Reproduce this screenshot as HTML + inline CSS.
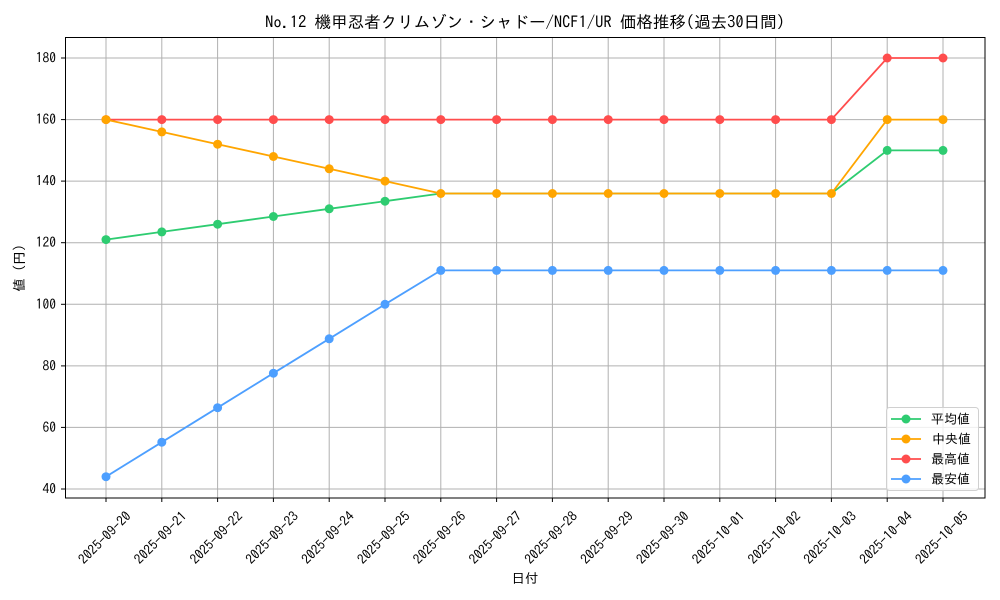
<!DOCTYPE html>
<html><head><meta charset="utf-8"><style>
body{margin:0;background:#fff}
svg{display:block;font-family:"IPAGothic","Liberation Sans","Noto Sans CJK JP",sans-serif}
</style></head><body>
<svg width="1000" height="600" viewBox="0 0 1000 600" xmlns="http://www.w3.org/2000/svg">
<rect width="1000" height="600" fill="#fff"/>
<g stroke="#b0b0b0" stroke-width="1">
<line x1="106" y1="37" x2="106" y2="498"/><line x1="161.8" y1="37" x2="161.8" y2="498"/><line x1="217.6" y1="37" x2="217.6" y2="498"/><line x1="273.4" y1="37" x2="273.4" y2="498"/><line x1="329.2" y1="37" x2="329.2" y2="498"/><line x1="385" y1="37" x2="385" y2="498"/><line x1="440.8" y1="37" x2="440.8" y2="498"/><line x1="496.6" y1="37" x2="496.6" y2="498"/><line x1="552.4" y1="37" x2="552.4" y2="498"/><line x1="608.2" y1="37" x2="608.2" y2="498"/><line x1="664" y1="37" x2="664" y2="498"/><line x1="719.8" y1="37" x2="719.8" y2="498"/><line x1="775.6" y1="37" x2="775.6" y2="498"/><line x1="831.4" y1="37" x2="831.4" y2="498"/><line x1="887.2" y1="37" x2="887.2" y2="498"/><line x1="943" y1="37" x2="943" y2="498"/>
<line x1="65" y1="58" x2="985" y2="58"/><line x1="65" y1="119.6" x2="985" y2="119.6"/><line x1="65" y1="181.1" x2="985" y2="181.1"/><line x1="65" y1="242.7" x2="985" y2="242.7"/><line x1="65" y1="304.3" x2="985" y2="304.3"/><line x1="65" y1="365.9" x2="985" y2="365.9"/><line x1="65" y1="427.4" x2="985" y2="427.4"/><line x1="65" y1="489" x2="985" y2="489"/>
</g>
<rect x="65.5" y="37.5" width="919.5" height="460.5" fill="none" stroke="#000" stroke-width="1"/>
<g stroke="#000">
<line x1="61" y1="58" x2="65" y2="58"/><line x1="61" y1="119.6" x2="65" y2="119.6"/><line x1="61" y1="181.1" x2="65" y2="181.1"/><line x1="61" y1="242.7" x2="65" y2="242.7"/><line x1="61" y1="304.3" x2="65" y2="304.3"/><line x1="61" y1="365.9" x2="65" y2="365.9"/><line x1="61" y1="427.4" x2="65" y2="427.4"/><line x1="61" y1="489" x2="65" y2="489"/>
</g>
<g font-size="13.5" text-anchor="end" fill="#000">
<text x="56" y="62.5">180</text><text x="56" y="124">160</text><text x="56" y="185.6">140</text><text x="56" y="247.2">120</text><text x="56" y="308.8">100</text><text x="56" y="370.4">80</text><text x="56" y="431.9">60</text><text x="56" y="493.5">40</text>
</g>
<g stroke="#000">
<line x1="106" y1="498" x2="106" y2="502"/><line x1="161.8" y1="498" x2="161.8" y2="502"/><line x1="217.6" y1="498" x2="217.6" y2="502"/><line x1="273.4" y1="498" x2="273.4" y2="502"/><line x1="329.2" y1="498" x2="329.2" y2="502"/><line x1="385" y1="498" x2="385" y2="502"/><line x1="440.8" y1="498" x2="440.8" y2="502"/><line x1="496.6" y1="498" x2="496.6" y2="502"/><line x1="552.4" y1="498" x2="552.4" y2="502"/><line x1="608.2" y1="498" x2="608.2" y2="502"/><line x1="664" y1="498" x2="664" y2="502"/><line x1="719.8" y1="498" x2="719.8" y2="502"/><line x1="775.6" y1="498" x2="775.6" y2="502"/><line x1="831.4" y1="498" x2="831.4" y2="502"/><line x1="887.2" y1="498" x2="887.2" y2="502"/><line x1="943" y1="498" x2="943" y2="502"/>
</g>
<g font-size="13.5" text-anchor="middle" fill="#000">
<text transform="translate(108,541) rotate(-45)">2025-09-20</text>
<text transform="translate(163.8,541) rotate(-45)">2025-09-21</text>
<text transform="translate(219.6,541) rotate(-45)">2025-09-22</text>
<text transform="translate(275.4,541) rotate(-45)">2025-09-23</text>
<text transform="translate(331.2,541) rotate(-45)">2025-09-24</text>
<text transform="translate(387,541) rotate(-45)">2025-09-25</text>
<text transform="translate(442.8,541) rotate(-45)">2025-09-26</text>
<text transform="translate(498.6,541) rotate(-45)">2025-09-27</text>
<text transform="translate(554.4,541) rotate(-45)">2025-09-28</text>
<text transform="translate(610.2,541) rotate(-45)">2025-09-29</text>
<text transform="translate(666,541) rotate(-45)">2025-09-30</text>
<text transform="translate(721.8,541) rotate(-45)">2025-10-01</text>
<text transform="translate(777.6,541) rotate(-45)">2025-10-02</text>
<text transform="translate(833.4,541) rotate(-45)">2025-10-03</text>
<text transform="translate(889.2,541) rotate(-45)">2025-10-04</text>
<text transform="translate(945,541) rotate(-45)">2025-10-05</text>
</g>
<text x="525" y="583" font-size="13.5" text-anchor="middle">日付</text>
<text transform="translate(24,268) rotate(-90)" font-size="13.5" text-anchor="middle">値 (円)</text>
<text x="525" y="28" font-size="16.5" text-anchor="middle">No.12 機甲忍者クリムゾン・シャドー/NCF1/UR 価格推移(過去30日間)</text>
<g fill="none" stroke-width="1.8">
<polyline stroke="#ff4d4d" points="106,119.6 161.8,119.6 217.6,119.6 273.4,119.6 329.2,119.6 385,119.6 440.8,119.6 496.6,119.6 552.4,119.6 608.2,119.6 664,119.6 719.8,119.6 775.6,119.6 831.4,119.6 887.2,58 943,58"/>
<polyline stroke="#2ecc71" points="106,239.6 161.8,231.9 217.6,224.2 273.4,216.5 329.2,208.8 385,201.2 440.8,193.5 496.6,193.5 552.4,193.5 608.2,193.5 664,193.5 719.8,193.5 775.6,193.5 831.4,193.5 887.2,150.4 943,150.4"/>
<polyline stroke="#ffa500" points="106,119.6 161.8,131.9 217.6,144.2 273.4,156.5 329.2,168.8 385,181.1 440.8,193.5 496.6,193.5 552.4,193.5 608.2,193.5 664,193.5 719.8,193.5 775.6,193.5 831.4,193.5 887.2,119.6 943,119.6"/>
<polyline stroke="#4d9fff" points="106,476.7 161.8,442.2 217.6,407.7 273.4,373.2 329.2,338.8 385,304.3 440.8,270.4 496.6,270.4 552.4,270.4 608.2,270.4 664,270.4 719.8,270.4 775.6,270.4 831.4,270.4 887.2,270.4 943,270.4"/>
</g>
<g fill="#ff4d4d"><circle cx="106" cy="119.6" r="4.5"/><circle cx="161.8" cy="119.6" r="4.5"/><circle cx="217.6" cy="119.6" r="4.5"/><circle cx="273.4" cy="119.6" r="4.5"/><circle cx="329.2" cy="119.6" r="4.5"/><circle cx="385" cy="119.6" r="4.5"/><circle cx="440.8" cy="119.6" r="4.5"/><circle cx="496.6" cy="119.6" r="4.5"/><circle cx="552.4" cy="119.6" r="4.5"/><circle cx="608.2" cy="119.6" r="4.5"/><circle cx="664" cy="119.6" r="4.5"/><circle cx="719.8" cy="119.6" r="4.5"/><circle cx="775.6" cy="119.6" r="4.5"/><circle cx="831.4" cy="119.6" r="4.5"/><circle cx="887.2" cy="58" r="4.5"/><circle cx="943" cy="58" r="4.5"/></g>
<g fill="#2ecc71"><circle cx="106" cy="239.6" r="4.5"/><circle cx="161.8" cy="231.9" r="4.5"/><circle cx="217.6" cy="224.2" r="4.5"/><circle cx="273.4" cy="216.5" r="4.5"/><circle cx="329.2" cy="208.8" r="4.5"/><circle cx="385" cy="201.2" r="4.5"/><circle cx="887.2" cy="150.4" r="4.5"/><circle cx="943" cy="150.4" r="4.5"/></g>
<g fill="#ffa500"><circle cx="106" cy="119.6" r="4.5"/><circle cx="161.8" cy="131.9" r="4.5"/><circle cx="217.6" cy="144.2" r="4.5"/><circle cx="273.4" cy="156.5" r="4.5"/><circle cx="329.2" cy="168.8" r="4.5"/><circle cx="385" cy="181.1" r="4.5"/><circle cx="440.8" cy="193.5" r="4.5"/><circle cx="496.6" cy="193.5" r="4.5"/><circle cx="552.4" cy="193.5" r="4.5"/><circle cx="608.2" cy="193.5" r="4.5"/><circle cx="664" cy="193.5" r="4.5"/><circle cx="719.8" cy="193.5" r="4.5"/><circle cx="775.6" cy="193.5" r="4.5"/><circle cx="831.4" cy="193.5" r="4.5"/><circle cx="887.2" cy="119.6" r="4.5"/><circle cx="943" cy="119.6" r="4.5"/></g>
<g fill="#4d9fff"><circle cx="106" cy="476.7" r="4.5"/><circle cx="161.8" cy="442.2" r="4.5"/><circle cx="217.6" cy="407.7" r="4.5"/><circle cx="273.4" cy="373.2" r="4.5"/><circle cx="329.2" cy="338.8" r="4.5"/><circle cx="385" cy="304.3" r="4.5"/><circle cx="440.8" cy="270.4" r="4.5"/><circle cx="496.6" cy="270.4" r="4.5"/><circle cx="552.4" cy="270.4" r="4.5"/><circle cx="608.2" cy="270.4" r="4.5"/><circle cx="664" cy="270.4" r="4.5"/><circle cx="719.8" cy="270.4" r="4.5"/><circle cx="775.6" cy="270.4" r="4.5"/><circle cx="831.4" cy="270.4" r="4.5"/><circle cx="887.2" cy="270.4" r="4.5"/><circle cx="943" cy="270.4" r="4.5"/></g>
<rect x="886.5" y="407.5" width="92" height="83" rx="3" fill="#fff" fill-opacity="0.8" stroke="#d0d0d0"/>
<g stroke-width="1.8">
<line x1="891" y1="419" x2="921" y2="419" stroke="#2ecc71"/><circle cx="906" cy="419" r="4.5" fill="#2ecc71"/>
<line x1="891" y1="439" x2="921" y2="439" stroke="#ffa500"/><circle cx="906" cy="439" r="4.5" fill="#ffa500"/>
<line x1="891" y1="459" x2="921" y2="459" stroke="#ff4d4d"/><circle cx="906" cy="459" r="4.5" fill="#ff4d4d"/>
<line x1="891" y1="479" x2="921" y2="479" stroke="#4d9fff"/><circle cx="906" cy="479" r="4.5" fill="#4d9fff"/>
</g>
<g font-size="13">
<text x="931" y="423.5">平均値</text><text x="932" y="443.5">中央値</text><text x="931" y="463.5">最高値</text><text x="931" y="483.5">最安値</text>
</g>
</svg>
</body></html>
